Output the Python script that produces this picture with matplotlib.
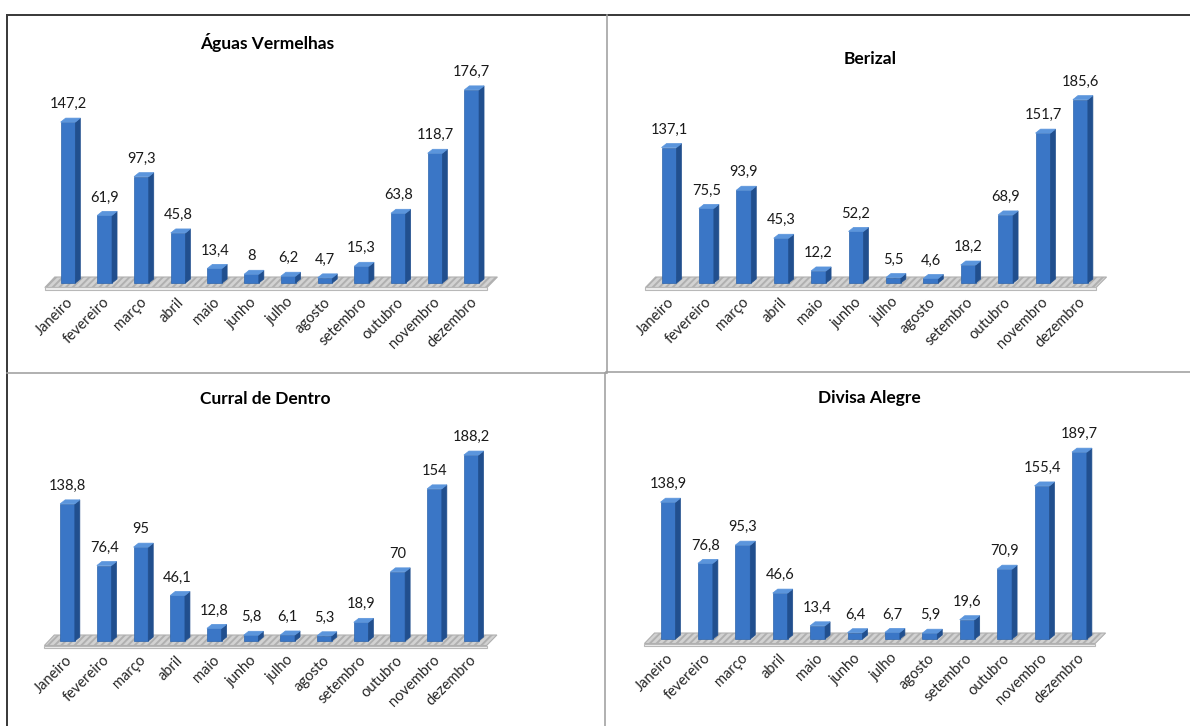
import matplotlib
matplotlib.use("Agg")
import matplotlib.pyplot as plt
from matplotlib.patches import Polygon
from matplotlib.lines import Line2D

plt.rcParams['font.family'] = ['Lato', 'DejaVu Sans']
plt.rcParams['hatch.color'] = 'white'
plt.rcParams['hatch.linewidth'] = 1.4

meses = ['Janeiro', 'fevereiro', 'março', 'abril', 'maio', 'junho', 'julho',
         'agosto', 'setembro', 'outubro', 'novembro', 'dezembro']

aguas_vermelhas = [147.2, 61.9, 97.3, 45.8, 13.4, 8, 6.2, 4.7, 15.3, 63.8, 118.7, 176.7]
berizal = [137.1, 75.5, 93.9, 45.3, 12.2, 52.2, 5.5, 4.6, 18.2, 68.9, 151.7, 185.6]
curral_de_dentro = [138.8, 76.4, 95, 46.1, 12.8, 5.8, 6.1, 5.3, 18.9, 70, 154, 188.2]
divisa_alegre = [138.9, 76.8, 95.3, 46.6, 13.4, 6.4, 6.7, 5.9, 19.6, 70.9, 155.4, 189.7]

W, H = 1190, 726
fig = plt.figure(figsize=(W / 100, H / 100), dpi=100)
fig.patch.set_facecolor('white')

FRONT = '#3a76c6'
SIDE = '#214f8e'
TOP = '#5b95dc'


def fx(px):
    return px / W


def fy(py):
    return 1 - py / H


def painel(dados, titulo, primeiro, passo, base, escala, titulo_xy):
    # primeiro/passo/base in pixels, escala = pixels per unit
    esq = primeiro - 1.0 * passo
    dir_ = primeiro + 12.0 * passo
    baixo = base + 12
    topo = base - 200 * escala
    ax = fig.add_axes([fx(esq), fy(baixo), fx(dir_ - esq), (baixo - topo) / H])
    ax.set_xlim(-1, 12)
    ax.set_ylim(-12 / escala, 200)
    ax.axis('off')

    # pixel offsets converted to data units
    px_x = 1.0 / passo
    px_y = 1.0 / escala
    dx, dy = 5 * px_x, 4 * px_y
    larg = 0.2

    # floor slab with hatched top
    f_front, f_back = -4.5 * px_y, 6 * px_y
    piso = Polygon([(-0.63, f_front), (11.42, f_front), (11.7, f_back), (-0.36, f_back)],
                   closed=True, facecolor='#d2d2d2', edgecolor='#b0b0b0',
                   hatch='/////', lw=0.8, zorder=1)
    ax.add_patch(piso)
    borda = Polygon([(-0.63, f_front), (11.42, f_front), (11.42, f_front - 2.5 * px_y),
                     (-0.63, f_front - 2.5 * px_y)], closed=True,
                    facecolor='#efefef', edgecolor='#b8b8b8', lw=0.8, zorder=1)
    ax.add_patch(borda)

    xs = list(range(len(dados)))
    ax.bar(xs, dados, width=2 * larg, color=FRONT, edgecolor='#2c64ac',
           linewidth=0.5, zorder=3)
    for x, v in zip(xs, dados):
        lado = Polygon([(x + larg, 0), (x + larg + dx, dy), (x + larg + dx, v + dy), (x + larg, v)],
                       closed=True, facecolor=SIDE, edgecolor=SIDE, lw=0.5, zorder=3)
        tampa = Polygon([(x - larg, v), (x + larg, v), (x + larg + dx, v + dy), (x - larg + dx, v + dy)],
                        closed=True, facecolor=TOP, edgecolor=TOP, lw=0.5, zorder=4)
        ax.add_patch(lado)
        ax.add_patch(tampa)
        rotulo = f"{v:g}".replace('.', ',')
        ax.annotate(rotulo, (x, v + dy), xytext=(0, 5), textcoords='offset points',
                    ha='center', va='bottom', fontsize=10.5, color='#1a1a1a')
        ax.text(x + 0.08, -17 * px_y, meses[x], rotation=45, rotation_mode='anchor',
                ha='right', va='center', fontsize=10.5, color='#262626')

    fig.text(fx(titulo_xy[0]), fy(titulo_xy[1]), titulo, ha='center', va='center',
             fontsize=12.5, fontweight='bold', color='black')


painel(aguas_vermelhas, 'Águas Vermelhas', 68, 36.7, 283, 1.093, (267, 42))
painel(berizal, 'Berizal', 669, 37.4, 283, 0.988, (870, 59))
painel(curral_de_dentro, 'Curral de Dentro', 67.5, 36.7, 641, 0.988, (265, 399))
painel(divisa_alegre, 'Divisa Alegre', 668, 37.4, 639, 0.985, (869, 398))

# frame lines around the four panels
linhas = [
    ((7, 1190), (15, 15), '#3c3c3c', 2.0),
    ((7, 7), (15, 726), '#3c3c3c', 2.0),
    ((606.5, 606.5), (15, 373), '#a0a0a0', 1.6),
    ((605, 605), (373, 726), '#a0a0a0', 1.6),
    ((7, 606), (373, 373), '#a0a0a0', 1.6),
    ((606, 1190), (372, 372), '#a0a0a0', 1.6),
]
for xs_, ys_, cor, lw in linhas:
    fig.add_artist(Line2D([fx(x) for x in xs_], [fy(y) for y in ys_],
                          color=cor, lw=lw * 72 / 100, transform=fig.transFigure))

fig.savefig('out.png', dpi=100, facecolor='white')
